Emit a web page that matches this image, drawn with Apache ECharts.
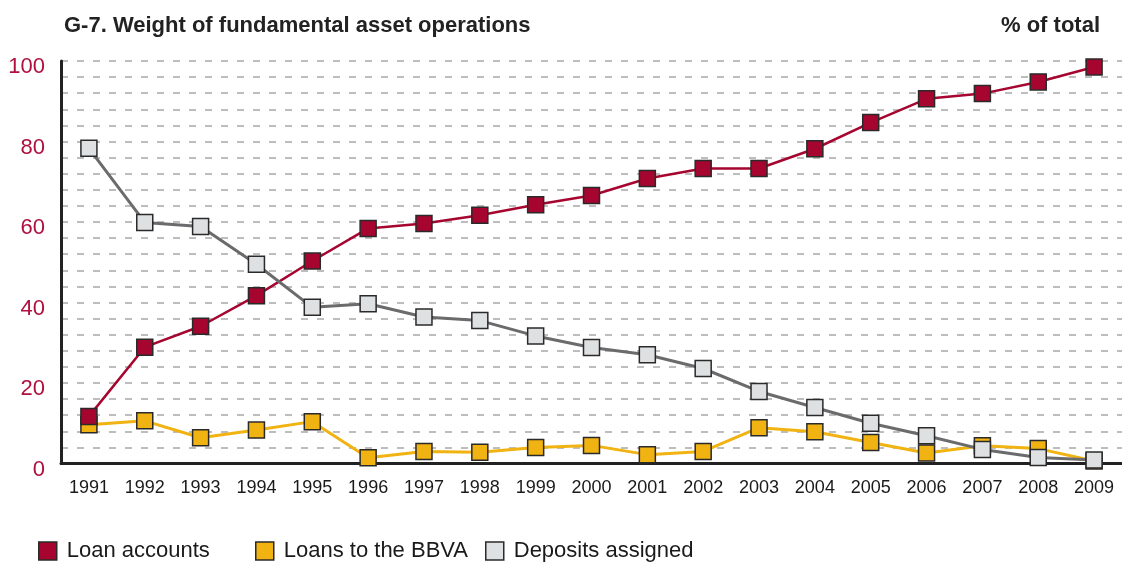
<!DOCTYPE html>
<html>
<head>
<meta charset="utf-8">
<script src="https://cdn.jsdelivr.net/npm/echarts@6/dist/echarts.min.js"></script>
<style>
  html, body { margin: 0; padding: 0; background: #fff; }
  #chart { width: 1122px; height: 562px; }
</style>
</head>
<body>
<div id="chart"></div>
<script>
// Share of each asset operation in the fund's portfolio, 1991-2009 (% of total)
const years = ['1991','1992','1993','1994','1995','1996','1997','1998','1999','2000',
               '2001','2002','2003','2004','2005','2006','2007','2008','2009'];
const loanAccounts = [11.7, 28.9, 34.1, 41.7, 50.3, 58.4, 59.6, 61.7, 64.3, 66.6,
                      70.8, 73.3, 73.3, 78.2, 84.7, 90.6, 91.9, 94.8, 98.5];
const loansToBBVA = [9.6, 10.6, 6.4, 8.3, 10.4, 1.4, 3.0, 2.8, 4.0, 4.5,
                     2.2, 3.0, 8.9, 7.9, 5.2, 2.6, 4.4, 3.7, 0.6];
const depositsAssigned = [78.3, 59.9, 58.9, 49.5, 38.8, 39.7, 36.4, 35.5, 31.7, 28.8,
                          27.0, 23.6, 17.9, 13.9, 10.0, 6.9, 3.5, 1.5, 0.9];
const yTickLabels = [0, 20, 40, 60, 80, 100];

const FONT = "'Liberation Sans', Arial, sans-serif";
const RED = '#a6052f';
const YELLOW = '#f0b312';
const GREY_FILL = '#dfe0e2';
const GREY_LINE = '#6b6b6d';
const EDGE = '#2a2a2a';

const chart = echarts.init(document.getElementById('chart'), null, { renderer: 'canvas' });

function lineSeries(name, data, fill, stroke, width) {
  return {
    name: name,
    type: 'line',
    data: data,
    symbol: 'rect',
    symbolSize: 16,
    showAllSymbol: true,
    clip: false,
    lineStyle: { color: stroke, width: width },
    itemStyle: { color: fill, borderColor: EDGE, borderWidth: 1.5 },
    emphasis: { disabled: true }
  };
}

function legendAt(name, left) {
  return {
    data: [name],
    left: left,
    top: 540,
    padding: 0,
    icon: 'rect',
    itemWidth: 18,
    itemHeight: 18,
    itemStyle: { borderColor: EDGE, borderWidth: 1.5 },
    textStyle: { fontFamily: FONT, fontSize: 22, color: '#1a1a1a', padding: [0, 0, 0, 5] },
    selectedMode: false
  };
}

chart.setOption({
  animation: false,
  backgroundColor: '#ffffff',
  title: [
    {
      text: 'G-7. Weight of fundamental asset operations',
      left: 59, top: 10,
      textStyle: { fontFamily: FONT, fontSize: 22, fontWeight: 'bold', color: '#222' }
    },
    {
      text: '% of total',
      right: 17, top: 10,
      textStyle: { fontFamily: FONT, fontSize: 22, fontWeight: 'bold', color: '#222' }
    }
  ],
  legend: [
    legendAt('Loan accounts', 38),
    legendAt('Loans to the BBVA', 255),
    legendAt('Deposits assigned', 485)
  ],
  grid: { left: 61, top: 61, width: 1062, height: 402.5, containLabel: false },
  xAxis: {
    type: 'category',
    data: years,
    boundaryGap: true,
    axisLine: { lineStyle: { color: '#222', width: 3 } },
    axisTick: { inside: true, length: 8, lineStyle: { color: '#222', width: 2 } },
    axisLabel: { fontFamily: FONT, fontSize: 18, color: '#1a1a1a', margin: 16, interval: 0 },
    splitLine: { show: false }
  },
  yAxis: {
    type: 'value',
    min: 0, max: 100, interval: 4,
    axisLine: { show: true, lineStyle: { color: '#222', width: 3 } },
    axisTick: { show: false },
    axisLabel: {
      fontFamily: FONT, fontSize: 22, color: '#b0103f', margin: 16,
      verticalAlign: 'top', lineHeight: 12,
      formatter: function (v) { return yTickLabels.indexOf(v) >= 0 ? String(v) : ''; }
    },
    splitLine: { lineStyle: { color: '#a8a8a8', width: 1.5, type: [7, 9] } }
  },
  series: [
    lineSeries('Loans to the BBVA', loansToBBVA, YELLOW, YELLOW, 3),
    lineSeries('Loan accounts', loanAccounts, RED, RED, 2.5),
    lineSeries('Deposits assigned', depositsAssigned, GREY_FILL, GREY_LINE, 3)
  ]
});
</script>
</body>
</html>
